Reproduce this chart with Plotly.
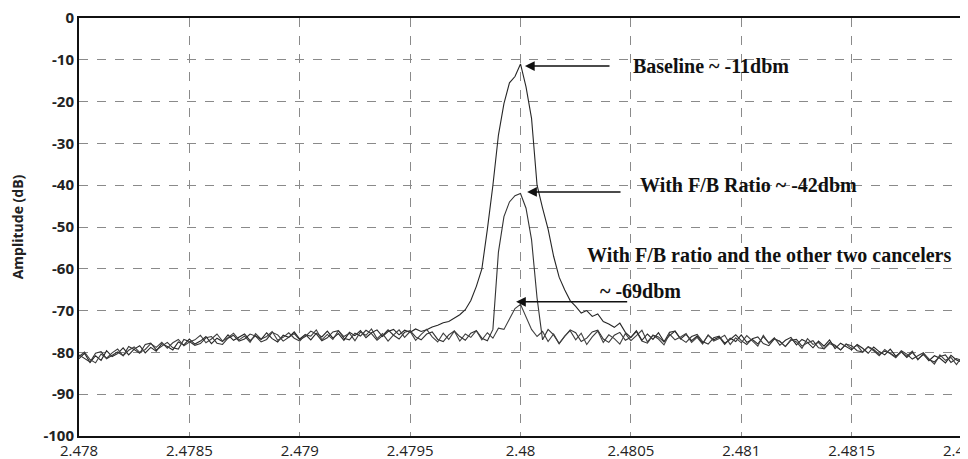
import plotly.graph_objects as go

FREQ_START = 2.478
FREQ_STEP = 0.000025
N_POINTS = 161

baseline = [
    -81.5, -80.2, -82.4, -80.8, -81.9, -79.6, -81.0, -80.3, -78.9, -80.6,
    -79.2, -78.4, -80.1, -78.8, -79.7, -77.9, -78.6, -79.4, -77.5, -78.2,
    -76.8, -78.0, -77.3, -76.2, -77.9, -76.6, -77.4, -75.8, -77.1, -76.4,
    -75.6, -77.2, -76.0, -76.9, -75.3, -76.7, -77.5, -75.9, -76.4, -75.1,
    -76.8, -75.7, -77.0, -75.4, -76.3, -74.9, -76.6, -75.5, -77.1, -75.2,
    -76.0, -74.8, -76.5, -75.3, -74.6, -76.2, -75.0, -74.5, -75.8, -74.7,
    -75.2, -74.4, -75.0, -74.6, -73.9, -73.5, -72.9, -72.6, -71.8, -71.0,
    -69.8, -67.6, -64.2, -60.0, -50.5, -40.0, -28.0, -20.5, -15.5, -14.0,
    -11.0, -16.5, -24.0, -40.0, -45.5, -50.5, -57.0, -62.0, -65.0, -67.6,
    -69.0, -70.6, -70.0, -71.4, -70.8, -72.6, -73.2, -74.0, -73.0, -75.2,
    -76.4, -74.8, -77.1, -75.6, -76.9, -75.3, -77.4, -76.0, -74.9, -76.8,
    -75.7, -77.2, -76.1, -77.8, -75.9, -77.0, -76.3, -78.1, -76.6, -77.4,
    -75.8, -77.6, -76.9, -78.0, -76.2, -77.7, -76.5, -78.3, -77.1, -76.4,
    -78.2, -76.9, -77.6, -78.9, -77.3, -78.5, -77.0, -79.1, -77.8, -78.6,
    -79.4, -78.1, -79.0, -80.2, -78.7, -79.8, -80.6, -79.2, -80.9, -79.9,
    -81.2, -80.0, -81.6, -80.5, -82.0, -80.8, -81.4, -82.5, -80.7, -81.8,
    -82.4,
]

fb_ratio = [
    -80.6, -81.4, -82.3, -80.2, -79.8, -81.5, -80.7, -79.9, -80.8, -78.6,
    -79.3, -80.2, -78.1, -77.8, -79.4, -78.5, -77.6, -78.9, -79.2, -76.9,
    -77.4, -78.3, -77.9, -76.5, -76.2, -77.8, -78.1, -76.6, -75.9, -77.3,
    -76.8, -75.6, -76.1, -77.5, -76.9, -75.2, -75.8, -77.3, -76.4, -75.5,
    -77.0, -76.2, -74.9, -75.6, -77.2, -76.5, -75.1, -74.8, -76.6, -77.0,
    -75.4, -76.1, -74.7, -75.5, -77.1, -76.0, -74.6, -75.9, -76.8, -75.2,
    -74.8, -76.3, -77.0, -75.6, -75.1, -76.9, -77.4, -75.8, -74.9, -76.2,
    -77.1, -75.4, -74.8, -76.6, -77.2, -74.5, -56.0, -47.5, -44.0, -42.5,
    -42.0, -45.5, -53.0, -67.0, -77.0, -74.5, -75.8, -77.9, -76.2, -74.6,
    -75.3, -77.4, -76.6, -75.1, -74.7, -76.8, -77.6, -75.9, -75.2, -77.1,
    -76.4, -75.0, -77.3, -77.8, -75.9, -76.3, -77.5, -75.2, -74.9, -76.7,
    -77.6, -76.2, -75.7, -77.4, -78.0, -76.5, -76.1, -77.8, -76.9, -75.8,
    -77.2, -78.1, -76.7, -76.3, -77.9, -78.4, -76.8, -77.3, -78.6, -77.1,
    -76.9, -78.5, -77.7, -77.2, -78.9, -79.1, -77.6, -78.3, -79.4, -78.0,
    -78.4, -79.6, -79.9, -78.6, -79.3, -80.5, -79.7, -80.2, -81.1, -79.6,
    -80.4, -81.6, -80.8, -80.1, -81.7, -82.3, -81.0, -80.6, -82.4, -81.5,
    -81.9,
]

cancelers = [
    -81.0, -79.9, -81.7, -82.5, -80.4, -81.4, -80.1, -79.2, -80.8, -79.5,
    -78.7, -80.0, -79.3, -77.9, -78.8, -77.6, -79.0, -77.7, -76.9, -78.4,
    -77.5, -77.0, -75.9, -77.7, -76.8, -75.6, -77.3, -76.5, -75.4, -77.0,
    -76.1, -77.6, -75.5, -76.8, -76.2, -75.0, -77.1, -76.4, -75.3, -76.6,
    -77.3, -75.8, -76.1, -74.6, -77.0, -75.7, -76.9, -74.8, -76.2, -75.4,
    -77.2, -75.1, -75.9, -74.4, -76.7, -75.5, -77.3, -75.8, -74.6, -76.4,
    -75.0, -77.1, -75.7, -74.5, -76.3, -77.5, -75.4, -76.9, -74.9, -77.3,
    -75.6, -76.4, -74.8, -77.0, -75.3, -76.6, -74.2, -74.5, -72.0, -69.5,
    -68.5, -71.5, -74.5, -76.2, -75.0, -77.4, -75.6, -77.9, -76.1, -74.8,
    -77.0, -75.4, -78.1, -76.3, -74.9, -77.6, -75.8, -76.7, -78.0, -75.5,
    -77.2, -76.0, -74.7, -77.5, -75.9, -76.8, -78.2, -75.6, -77.0, -76.3,
    -75.5, -77.6, -76.4, -78.0, -75.8, -77.3, -76.7, -75.9, -78.1, -76.5,
    -77.7, -76.0, -77.2, -78.5, -75.9, -77.8, -76.8, -77.4, -78.6, -76.9,
    -77.5, -79.0, -76.7, -78.1, -77.6, -79.2, -77.9, -78.5, -79.4, -78.0,
    -79.1, -78.3, -80.0, -78.7, -79.6, -80.8, -79.3, -80.2, -81.3, -79.8,
    -80.9, -79.7, -81.8, -80.3, -81.5, -82.8, -80.6, -81.9, -81.2, -82.9,
    -81.0,
]

x_tickvals = [2.478, 2.4785, 2.479, 2.4795, 2.48, 2.4805, 2.481, 2.4815, 2.482]
x_ticktext = ["2.478", "2.4785", "2.479", "2.4795", "2.48", "2.4805", "2.481", "2.4815", "2.482"]
y_tickvals = [0, -10, -20, -30, -40, -50, -60, -70, -80, -90, -100]
y_ticktext = ["0", "-10", "-20", "-30", "-40", "-50", "-60", "-70", "-80", "-90", "-100"]

freq = [FREQ_START + FREQ_STEP * i for i in range(N_POINTS)]

fig = go.Figure()
for vals, col in [(baseline, "#262626"), (fb_ratio, "#333333"), (cancelers, "#404040")]:
    fig.add_trace(go.Scatter(x=freq, y=vals, mode="lines",
                             line=dict(color=col, width=1.1), showlegend=False,
                             hoverinfo="skip"))

ann_font = dict(family="Liberation Serif", size=20, color="#111111", weight="bold")
annotations = [
    dict(x=2.48050, y=-11.5, text="Baseline ~ -11dbm", showarrow=False,
         xanchor="left", yanchor="middle", font=ann_font),
    dict(x=2.48053, y=-40.0, text="With F/B Ratio ~ -42dbm", showarrow=False,
         xanchor="left", yanchor="middle", font=ann_font),
    dict(x=2.48029, y=-56.7, text="With F/B ratio and the other two cancelers", showarrow=False,
         xanchor="left", yanchor="middle", font=ann_font),
    dict(x=2.48035, y=-65.3, text="~ -69dbm", showarrow=False,
         xanchor="left", yanchor="middle", font=ann_font),
]
arrows = [
    (2.48002, -11.5, 2.48041),
    (2.48003, -41.6, 2.48046),
    (2.47998, -67.9, 2.48049),
]
for hx, hy, tx in arrows:
    annotations.append(dict(x=hx, y=hy, ax=tx, ay=hy, xref="x", yref="y",
                            axref="x", ayref="y", text="", showarrow=True,
                            arrowhead=2, arrowsize=1.3, arrowwidth=1.5,
                            arrowcolor="#111111"))

fig.update_layout(
    width=960, height=451,
    margin=dict(l=71, r=6, t=10, b=23, autoexpand=False),
    paper_bgcolor="white", plot_bgcolor="white",
    annotations=annotations,
    xaxis=dict(range=[2.478, 2.482], tickvals=x_tickvals, ticktext=x_ticktext,
               showgrid=True, gridcolor="#8a8a8a", griddash="dash", gridwidth=1,
               showline=True, linecolor="#111111", linewidth=2, mirror=True,
               ticks="", zeroline=False, automargin=False,
               ticklabeloverflow="allow",
               tickfont=dict(family="Open Sans", size=15, color="#222222")),
    yaxis=dict(range=[-100, 0], tickvals=y_tickvals, ticktext=y_ticktext,
               showgrid=True, gridcolor="#8a8a8a", griddash="dash", gridwidth=1,
               showline=True, linecolor="#111111", linewidth=2, mirror=True,
               ticks="", zeroline=False, automargin=False,
               ticklabeloverflow="allow",
               tickfont=dict(family="Open Sans", size=15, color="#222222", weight="bold"),
               title=dict(text="Amplitude (dB)", standoff=18,
                          font=dict(family="Open Sans", size=14, color="#222222", weight="bold"))),
)

fig.write_html("out.html")
